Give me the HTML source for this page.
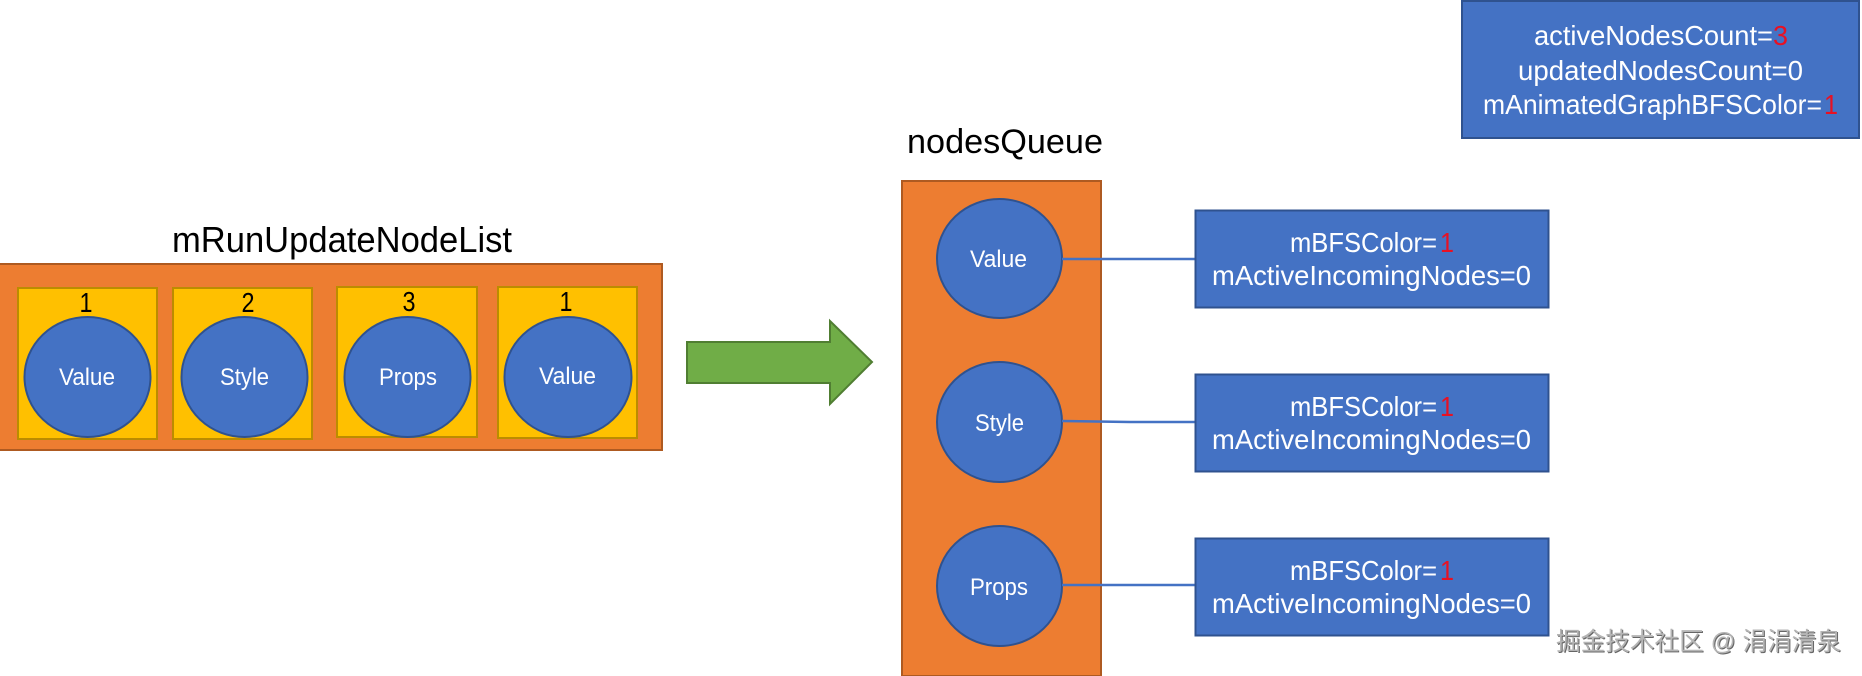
<!DOCTYPE html>
<html><head><meta charset="utf-8"><style>
html,body{margin:0;padding:0;background:#fff;width:1862px;height:676px;overflow:hidden}
svg{display:block}
text{font-family:"Liberation Sans","Noto Sans CJK SC",sans-serif}
.w{fill:#fff}.k{fill:#000}.r{fill:#e81123}
.o{fill:#ED7D31;stroke:#AE5A21;stroke-width:2}
.y{fill:#FFC000;stroke:#BC8C00;stroke-width:2}
.b{fill:#4472C4;stroke:#2F528F;stroke-width:2}
.l{stroke:#4472C4;stroke-width:2.5;fill:none}
</style></head><body>
<svg width="1862" height="676" viewBox="0 0 1862 676" xmlns="http://www.w3.org/2000/svg">
<text class="k" x="172" y="252" font-size="36" textLength="340" lengthAdjust="spacingAndGlyphs">mRunUpdateNodeList</text>
<rect class="o" x="-2" y="264" width="664" height="186"/>
<rect class="y" x="18" y="288" width="139" height="151"/>
<rect class="y" x="173" y="288" width="139" height="151"/>
<rect class="y" x="337" y="287" width="140" height="150"/>
<rect class="y" x="498" y="287" width="139" height="151"/>
<text class="k" x="86" y="312" font-size="28" text-anchor="middle" textLength="13" lengthAdjust="spacingAndGlyphs">1</text>
<text class="k" x="248" y="312" font-size="28" text-anchor="middle" textLength="13" lengthAdjust="spacingAndGlyphs">2</text>
<text class="k" x="409" y="311" font-size="28" text-anchor="middle" textLength="13" lengthAdjust="spacingAndGlyphs">3</text>
<text class="k" x="566" y="311" font-size="28" text-anchor="middle" textLength="13" lengthAdjust="spacingAndGlyphs">1</text>
<ellipse class="b" cx="87.5" cy="377" rx="63" ry="60"/>
<ellipse class="b" cx="244.5" cy="377" rx="63" ry="60"/>
<ellipse class="b" cx="407.5" cy="377" rx="63" ry="60"/>
<ellipse class="b" cx="568" cy="377" rx="63.5" ry="60"/>
<text class="w" x="59" y="385" font-size="24" textLength="56" lengthAdjust="spacingAndGlyphs">Value</text>
<text class="w" x="220" y="385" font-size="24" textLength="49" lengthAdjust="spacingAndGlyphs">Style</text>
<text class="w" x="379" y="385" font-size="24" textLength="58" lengthAdjust="spacingAndGlyphs">Props</text>
<text class="w" x="539" y="384" font-size="24" textLength="57" lengthAdjust="spacingAndGlyphs">Value</text>

<polygon points="687,342 830,342 830,321 872,362 830,404 830,383 687,383" fill="#70AD47" stroke="#507E32" stroke-width="2"/>

<text class="k" x="907" y="153" font-size="34" textLength="196" lengthAdjust="spacingAndGlyphs">nodesQueue</text>
<rect class="o" x="902" y="181" width="199" height="495"/>
<ellipse class="b" cx="999.5" cy="258.5" rx="62.5" ry="59.5"/>
<ellipse class="b" cx="999.5" cy="422" rx="62.5" ry="60"/>
<ellipse class="b" cx="999.5" cy="586" rx="62.5" ry="60"/>
<text class="w" x="970" y="267" font-size="24" textLength="57" lengthAdjust="spacingAndGlyphs">Value</text>
<text class="w" x="975" y="431" font-size="24" textLength="49" lengthAdjust="spacingAndGlyphs">Style</text>
<text class="w" x="970" y="595" font-size="24" textLength="58" lengthAdjust="spacingAndGlyphs">Props</text>
<path class="l" d="M1062 259H1195"/>
<path class="l" d="M1062 421L1130 422H1195"/>
<path class="l" d="M1062 585H1195"/>

<rect class="b" x="1195.500" y="210.500" width="353" height="97"/>
<rect class="b" x="1195.500" y="374.500" width="353" height="97"/>
<rect class="b" x="1195.500" y="538.500" width="353" height="97"/>

<text class="w" x="1290" y="252" font-size="28" textLength="147" lengthAdjust="spacingAndGlyphs">mBFSColor=</text>
<text class="r" x="1440" y="252" font-size="28" textLength="14" lengthAdjust="spacingAndGlyphs">1</text>
<text class="w" x="1212" y="285" font-size="28" textLength="319" lengthAdjust="spacingAndGlyphs">mActiveIncomingNodes=0</text>

<text class="w" x="1290" y="416" font-size="28" textLength="147" lengthAdjust="spacingAndGlyphs">mBFSColor=</text>
<text class="r" x="1440" y="416" font-size="28" textLength="14" lengthAdjust="spacingAndGlyphs">1</text>
<text class="w" x="1212" y="449" font-size="28" textLength="319" lengthAdjust="spacingAndGlyphs">mActiveIncomingNodes=0</text>

<text class="w" x="1290" y="580" font-size="28" textLength="147" lengthAdjust="spacingAndGlyphs">mBFSColor=</text>
<text class="r" x="1440" y="580" font-size="28" textLength="14" lengthAdjust="spacingAndGlyphs">1</text>
<text class="w" x="1212" y="613" font-size="28" textLength="319" lengthAdjust="spacingAndGlyphs">mActiveIncomingNodes=0</text>

<rect class="b" x="1462" y="1" width="397" height="137"/>
<text class="w" x="1534" y="45" font-size="28" textLength="239" lengthAdjust="spacingAndGlyphs">activeNodesCount=</text>
<text class="r" x="1773" y="45" font-size="28" textLength="15" lengthAdjust="spacingAndGlyphs">3</text>
<text class="w" x="1518" y="80" font-size="28" textLength="285" lengthAdjust="spacingAndGlyphs">updatedNodesCount=0</text>
<text class="w" x="1483" y="114" font-size="28" textLength="339" lengthAdjust="spacingAndGlyphs">mAnimatedGraphBFSColor=</text>
<text class="r" x="1824" y="114" font-size="28" textLength="14" lengthAdjust="spacingAndGlyphs">1</text>

<text x="1557" y="651" font-size="25" textLength="285" lengthAdjust="spacingAndGlyphs" fill="#666">掘金技术社区 @ 涓涓清泉</text>
<text x="1556" y="650" font-size="25" textLength="285" lengthAdjust="spacingAndGlyphs" fill="#b5b5b5">掘金技术社区 @ 涓涓清泉</text>
</svg>
</body></html>
